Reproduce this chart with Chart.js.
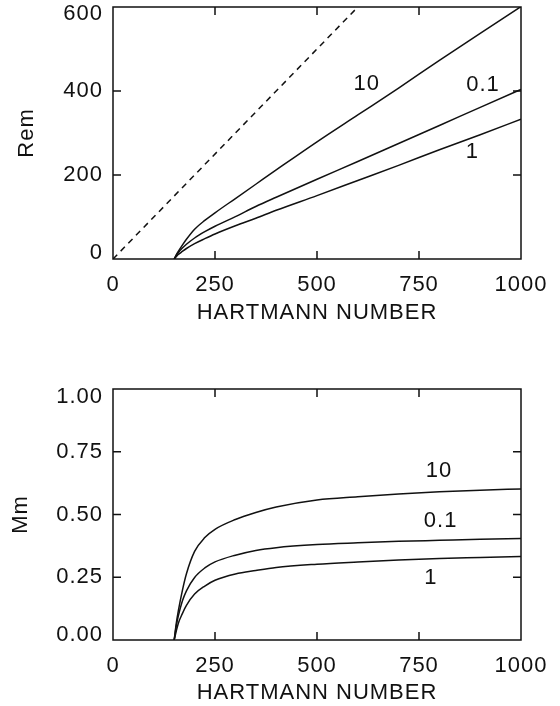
<!DOCTYPE html>
<html>
<head>
<meta charset="utf-8">
<script src="https://cdn.jsdelivr.net/npm/chart.js@4"></script>
<style>
  body { margin: 0; background: #fff; }
  .box { position: absolute; left: 0; width: 560px; }
</style>
</head>
<body>
<div class="box" style="top:0;height:340px"><canvas id="remChart"></canvas></div>
<div class="box" style="top:360px;height:346px"><canvas id="mmChart"></canvas></div>
<script>
  // values
  var hartmann = [150, 155, 160, 170, 180, 200, 225, 250, 300, 350, 400, 500, 600, 700, 800, 900, 1000];
  var rem10  = [0, 10, 18, 33, 47, 71, 92, 110, 144, 178, 212, 279, 343, 407, 473, 537, 601];
  var rem01  = [0, 8.5, 15, 26, 35, 50, 65, 78, 101, 125, 147, 190, 232, 275, 318, 361, 404];
  var rem1   = [0, 5.4, 10.6, 18, 25, 36.6, 48.4, 59.5, 79, 97, 116, 151, 187, 223, 260, 296, 333];
  var mm10   = [0, 0.065, 0.115, 0.197, 0.264, 0.353, 0.408, 0.441, 0.48, 0.508, 0.53, 0.558, 0.571, 0.582, 0.591, 0.597, 0.602];
  var mm01   = [0, 0.055, 0.095, 0.155, 0.196, 0.249, 0.287, 0.311, 0.338, 0.357, 0.368, 0.38, 0.387, 0.393, 0.397, 0.401, 0.404];
  var mm1    = [0, 0.035, 0.066, 0.105, 0.138, 0.183, 0.215, 0.238, 0.263, 0.277, 0.289, 0.302, 0.311, 0.319, 0.325, 0.329, 0.333];
  var dashX  = [0, 600];
  var dashY  = [0, 600];
  var curveNames = ['10', '0.1', '1'];

  const FAMILY = "'Liberation Sans', Arial, sans-serif";
  const FONT = { family: FAMILY, size: 22 };
  const SPACING = '1px';
  const INK = '#111';

  function pts(xs, ys) {
    return xs.map((v, i) => ({ x: v, y: ys[i] }));
  }

  function line(xs, ys, dash) {
    return {
      data: pts(xs, ys),
      showLine: true,
      borderColor: INK,
      borderWidth: 1.5,
      borderDash: dash || [],
      cubicInterpolationMode: 'monotone',
      pointRadius: 0,
      fill: false
    };
  }

  // IDL-ish frame with inward ticks, plus curve names
  const frameTicks = {
    id: 'frameTicks',
    beforeUpdate(chart) { chart.ctx.letterSpacing = SPACING; },
    beforeDraw(chart) { chart.ctx.letterSpacing = SPACING; },
    afterDatasetsDraw(chart, args, opts) {
      const ctx = chart.ctx, a = chart.chartArea;
      const x = chart.scales.x, y = chart.scales.y;
      ctx.save();
      ctx.strokeStyle = INK;
      ctx.lineWidth = 1.5;
      ctx.strokeRect(a.left, a.top, a.right - a.left, a.bottom - a.top);
      ctx.beginPath();
      x.ticks.forEach(t => {
        if (t.value <= x.min || t.value >= x.max) return;
        const px = x.getPixelForValue(t.value);
        ctx.moveTo(px, a.bottom); ctx.lineTo(px, a.bottom - 8);
        ctx.moveTo(px, a.top); ctx.lineTo(px, a.top + 8);
      });
      y.ticks.forEach(t => {
        if (t.value <= y.min || t.value >= y.max) return;
        const py = y.getPixelForValue(t.value);
        ctx.moveTo(a.left, py); ctx.lineTo(a.left + 8, py);
        ctx.moveTo(a.right, py); ctx.lineTo(a.right - 8, py);
      });
      ctx.stroke();
      ctx.font = FONT.size + 'px ' + FAMILY;
      ctx.letterSpacing = SPACING;
      ctx.fillStyle = INK;
      ctx.textAlign = 'center';
      ctx.textBaseline = 'middle';
      opts.labels.forEach(l => {
        ctx.fillText(l.text, x.getPixelForValue(l.x), y.getPixelForValue(l.y));
      });
      ctx.restore();
    }
  };

  function makeOptions(o) {
    // end labels sit a little inside the frame, like the original
    const yLabel = v => {
      const s = o.fmt(v);
      if (v === o.yMax) return ['', s];
      if (v === o.yMin) return [s, ''];
      return s;
    };
    const yFont = c => {
      const v = c.tick ? c.tick.value : null;
      if (v === o.yMax) return { family: FAMILY, size: FONT.size, lineHeight: o.topShift * 2 + 'px' };
      if (v === o.yMin) return { family: FAMILY, size: FONT.size, lineHeight: o.botShift * 2 + 'px' };
      return FONT;
    };
    return {
      responsive: true,
      maintainAspectRatio: false,
      animation: false,
      layout: { padding: { top: o.padTop, right: 39, left: 0, bottom: 0 } },
      plugins: {
        legend: { display: false },
        tooltip: { enabled: false },
        frameTicks: { labels: o.labels }
      },
      scales: {
        x: {
          type: 'linear',
          min: 0,
          max: 1000,
          afterFit: s => { s.height = o.xHeight; s.paddingLeft = 0; s.paddingRight = 0; },
          grid: { display: false, drawTicks: false },
          border: { display: false },
          ticks: { stepSize: 250, padding: 13, color: INK, font: FONT, maxRotation: 0,
                   callback: v => String(v) },
          title: { display: true, text: 'HARTMANN NUMBER', color: INK, font: FONT,
                   padding: { top: 0, bottom: o.xTitlePad } }
        },
        y: {
          min: o.yMin,
          max: o.yMax,
          afterFit: s => { s.width = 113; s.paddingTop = 0; s.paddingBottom = 0; },
          grid: { display: false, drawTicks: false },
          border: { display: false },
          ticks: { stepSize: o.yStep, padding: 10, color: INK, font: yFont, callback: yLabel },
          title: { display: true, text: o.yTitle, color: INK, font: FONT,
                   padding: { top: o.yTitlePad, bottom: 0 } }
        }
      }
    };
  }

  new Chart('remChart', {
    type: 'scatter',
    data: {
      datasets: [
        line(dashX, dashY, [6, 5]),
        line(hartmann, rem10),
        line(hartmann, rem01),
        line(hartmann, rem1)
      ]
    },
    options: makeOptions({
      padTop: 7, xHeight: 81, xTitlePad: 14.3, yTitlePad: 13.8,
      yMin: 0, yMax: 600, yStep: 200, yTitle: 'Rem',
      topShift: 7, botShift: 6,
      fmt: v => String(v),
      labels: [
        { text: curveNames[0], x: 622, y: 416 },
        { text: curveNames[1], x: 907, y: 414 },
        { text: curveNames[2], x: 881, y: 256 }
      ]
    }),
    plugins: [frameTicks]
  });

  new Chart('mmChart', {
    type: 'scatter',
    data: {
      datasets: [
        line(hartmann, mm10),
        line(hartmann, mm01),
        line(hartmann, mm1)
      ]
    },
    options: makeOptions({
      padTop: 29, xHeight: 66, xTitlePad: 0, yTitlePad: 7.8,
      yMin: 0, yMax: 1, yStep: 0.25, yTitle: 'Mm',
      topShift: 8, botShift: 5,
      fmt: v => v.toFixed(2),
      labels: [
        { text: curveNames[0], x: 799, y: 0.675 },
        { text: curveNames[1], x: 803, y: 0.476 },
        { text: curveNames[2], x: 779, y: 0.246 }
      ]
    }),
    plugins: [frameTicks]
  });
</script>
</body>
</html>
